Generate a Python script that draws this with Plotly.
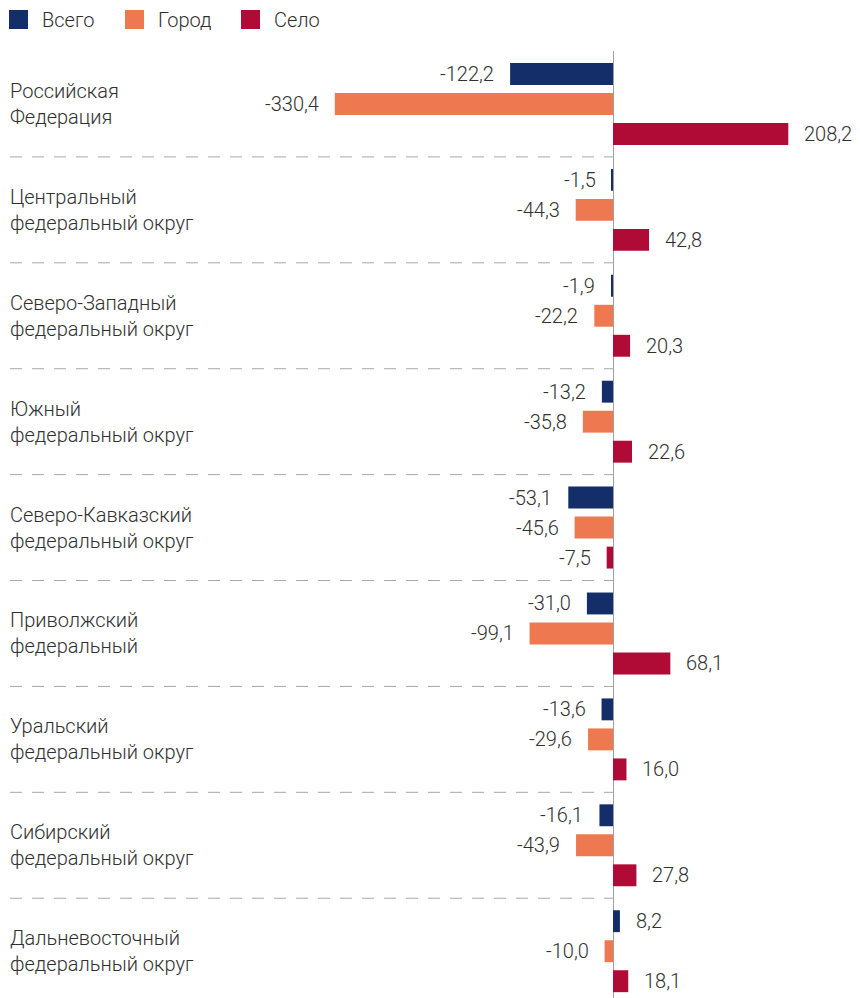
import plotly.graph_objects as go

categories = [
    "Российская<br>Федерация",
    "Центральный<br>федеральный округ",
    "Северо-Западный<br>федеральный округ",
    "Южный<br>федеральный округ",
    "Северо-Кавказский<br>федеральный округ",
    "Приволжский<br>федеральный",
    "Уральский<br>федеральный округ",
    "Сибирский<br>федеральный округ",
    "Дальневосточный<br>федеральный округ",
]
series_names = ["Всего", "Город", "Село"]
vsego = [-122.2, -1.5, -1.9, -13.2, -53.1, -31.0, -13.6, -16.1, 8.2]
gorod = [-330.4, -44.3, -22.2, -35.8, -45.6, -99.1, -29.6, -43.9, -10.0]
selo = [208.2, 42.8, 20.3, 22.6, -7.5, 68.1, 16.0, 27.8, 18.1]
colors = ["#142e69", "#ee7850", "#b00b36"]

# page body has an 8px default margin: compensate
OFF = 8
W, H = 860 - OFF, 998 - OFF
TOP = 51 - OFF
ZERO_PX = 613 - OFF
PX_PER_UNIT = 0.842
x_min = -ZERO_PX / PX_PER_UNIT
x_max = (W - ZERO_PX) / PX_PER_UNIT
FONT = "Roboto"
WEIGHT = 300
TXT = "#303030"
FS = 20

ypos = list(range(len(categories)))
all_series = [vsego, gorod, selo]
bargap = 0.15
slot = (1 - bargap) / len(all_series)

fig = go.Figure()
for name, vals, col in zip(series_names, all_series, colors):
    fig.add_trace(go.Bar(
        y=ypos, x=vals, orientation="h", name=name,
        marker=dict(color=col, line=dict(width=0)),
        showlegend=False, hoverinfo="skip",
    ))

def fmt(v):
    return f"{v:.1f}".replace(".", ",")

annotations = []
for i, vals in enumerate(all_series):
    off = (i - (len(all_series) - 1) / 2) * slot
    for j, v in enumerate(vals):
        annotations.append(dict(
            x=v, y=j + off, xref="x", yref="y", text=fmt(v),
            showarrow=False, xanchor="left" if v >= 0 else "right",
            xshift=14 if v >= 0 else -14, yanchor="middle",
            font=dict(family=FONT, size=FS, color=TXT, weight=WEIGHT),
        ))

for j, c in enumerate(categories):
    annotations.append(dict(
        x=(8 - OFF) / W, y=j, xref="paper", yref="y", text=c, showarrow=False,
        xanchor="left", yanchor="middle", align="left",
        font=dict(family=FONT, size=FS, color=TXT, weight=WEIGHT),
    ))

shapes = []
for j in range(len(categories) - 1):
    shapes.append(dict(
        type="line", xref="x", yref="y",
        x0=x_min + (10 - OFF) / PX_PER_UNIT, x1=0, y0=j + 0.5, y1=j + 0.5,
        line=dict(color="#a8a8a8", width=1, dash="12px,10px"),
    ))

# legend
plot_h = H - TOP
def py(p):
    return 1 + (TOP - (p - OFF)) / plot_h
leg_x = [9, 125, 241]
for name, col, lx in zip(series_names, colors, leg_x):
    shapes.append(dict(
        type="rect", xref="paper", yref="paper",
        x0=(lx - OFF) / W, x1=(lx - OFF + 19) / W, y0=py(29), y1=py(10),
        fillcolor=col, line=dict(width=0),
    ))
    annotations.append(dict(
        x=(lx - OFF + 31) / W, y=py(19.5), xref="paper", yref="paper", text=name,
        showarrow=False, xanchor="left", yanchor="middle",
        font=dict(family=FONT, size=FS, color=TXT, weight=WEIGHT),
    ))

y_bottom = (len(categories) - 1) + (998 - (51 + 53 + 8 * 105.9)) / 105.9
fig.update_layout(
    width=W, height=H,
    margin=dict(l=0, r=0, t=TOP, b=0, pad=0),
    paper_bgcolor="white", plot_bgcolor="white",
    barmode="group", bargap=bargap, bargroupgap=0.27,
    xaxis=dict(range=[x_min, x_max], showgrid=False, showticklabels=False,
               zeroline=True, zerolinecolor="#a0a0a0", zerolinewidth=1,
               fixedrange=True),
    yaxis=dict(range=[y_bottom, -0.5], showgrid=False, showticklabels=False,
               zeroline=False, fixedrange=True),
    annotations=annotations, shapes=shapes,
    showlegend=False,
)
fig.write_html("out.html", config={"displayModeBar": False})
